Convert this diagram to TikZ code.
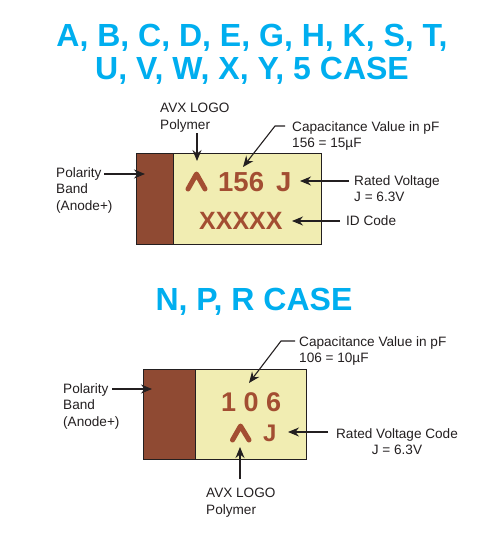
\documentclass[tikz,border=0pt]{standalone}
\usepackage{fontspec}
\setmainfont{Liberation Sans}
\usetikzlibrary{arrows.meta}
\definecolor{cyanT}{HTML}{00AEEF}
\definecolor{bandC}{HTML}{8F4A33}
\definecolor{bodyC}{HTML}{F1EDB2}
\definecolor{markC}{HTML}{A34E32}
\definecolor{inkC}{HTML}{231F20}
\tikzset{
  x=1pt,y=-1pt,
  title/.style={anchor=base,inner sep=0,text=cyanT,font=\bfseries\fontsize{32}{36}\selectfont},
  lbl/.style={anchor=north west,inner sep=0,text=inkC,align=left,font=\fontsize{13.6}{16.5}\selectfont},
  lblc/.style={lbl,anchor=north,align=center},
  mark1/.style={anchor=base west,inner sep=0,text=markC,font=\bfseries\fontsize{27.5}{28}\selectfont},
  body/.style={draw=inkC,line width=1pt,fill=bodyC},
  band/.style={draw=inkC,line width=1pt,fill=bandC},
  arr/.style={draw=inkC,line width=1.1pt,-{Stealth[length=11pt,width=9pt]}},
  logo/.style={draw=markC,line width=5pt,line cap=round,line join=round},
}
\begin{document}
\begin{tikzpicture}
\useasboundingbox (0,0) rectangle (492,539);
\node[title] (t1) at (252,46) {A, B, C, D, E, G, H, K, S, T,};
\node[title] (t2) at (252,79) {U, V, W, X, Y, 5 CASE};
\node[title] (t3) at (254,310) {N, P, R CASE};
% upper part
\node[body,minimum width=185,minimum height=91,inner sep=0] (b1) at (228.5,198.5) {};
\node[band,minimum width=37,minimum height=91,inner sep=0] (bb1) at (154.5,198.5) {};
\draw[logo] (188,189) -- (196.5,174) -- (205,189);
\node[mark1] (m1) at (218,191) {156};
\node[mark1] (m1j) at (276,191) {J};
\node[mark1,font=\bfseries\fontsize{25}{28}\selectfont] (m1x) at (199,229) {XXXXX};
\node[lbl] (logo1) at (160,103) {AVX LOGO\\Polymer};
\node[lbl] (cap1) at (292,121) {Capacitance Value in pF\\156 = 15µF};
\node[lbl] (pol1) at (56,167) {Polarity\\Band\\(Anode+)};
\node[lbl] (rat1) at (354,175) {Rated Voltage\\J = 6.3V};
\node[lbl] (id1) at (346,215) {ID Code};
\coordinate (tlogo1) at (197,161);
\coordinate (tcap1) at (243,167);
\coordinate (tpol1) at (145,174);
\coordinate (trat1) at (300,181);
\coordinate (tid1) at (292,221);
\draw[arr] ([shift={(37,30)}]logo1.north west) -- (tlogo1);
\draw[arr] ([shift={(-7,5)}]cap1.north west) -- (275,126) -- (tcap1);
\draw[arr] ([shift={(48,7)}]pol1.north west) -- (tpol1);
\draw[arr] ([shift={(-5,6)}]rat1.north west) -- (trat1);
\draw[arr] ([shift={(-6,6)}]id1.north west) -- (tid1);
% lower part
\node[body,minimum width=163,minimum height=90,inner sep=0] (b2) at (224.5,414) {};
\node[band,minimum width=52,minimum height=90,inner sep=0] (bb2) at (169,414) {};
\node[mark1,font=\bfseries\fontsize{27}{28}\selectfont] (m2) at (221,411) {1 0 6};
\draw[logo] (232.5,440) -- (240.5,426) -- (249,440);
\node[mark1,font=\bfseries\fontsize{24}{28}\selectfont] (m2j) at (263,441) {J};
\node[lbl] (cap2) at (299,336) {Capacitance Value in pF\\106 = 10µF};
\node[lbl] (pol2) at (63,383) {Polarity\\Band\\(Anode+)};
\node[lblc] (rat2) at (397,428) {Rated Voltage Code\\J = 6.3V};
\node[lbl] (logo2) at (206,488) {AVX LOGO\\Polymer};
\coordinate (tcap2) at (249,383);
\coordinate (tpol2) at (152,389);
\coordinate (trat2) at (288,432);
\coordinate (tlogo2) at (240,447);
\draw[arr] ([shift={(-4,5)}]cap2.north west) -- (281,341) -- (tcap2);
\draw[arr] ([shift={(49,6)}]pol2.north west) -- (tpol2);
\draw[arr] ([shift={(-69,4)}]rat2.north) -- (trat2);
\draw[arr] ([shift={(34,-9)}]logo2.north west) -- (tlogo2);
\end{tikzpicture}
\end{document}
